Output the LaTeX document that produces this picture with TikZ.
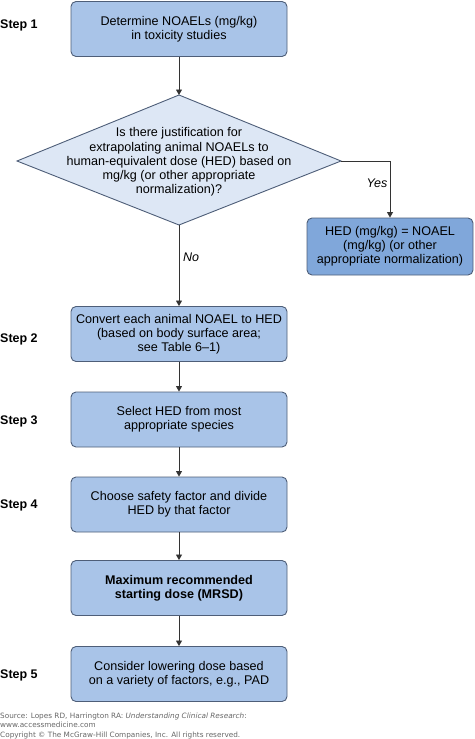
\documentclass[tikz,border=0pt]{standalone}
\usepackage{fontspec}
\setmainfont{Liberation Sans}
\newfontfamily\footfont{DejaVu Sans}
\usetikzlibrary{arrows.meta}
\definecolor{boxfill}{HTML}{A9C4E8}
\definecolor{hedfill}{HTML}{80A7DA}
\definecolor{diafill}{HTML}{DDE7F5}
\definecolor{edge}{HTML}{4E5E78}
\definecolor{footgray}{HTML}{666666}
\tikzset{
  stepbox/.style={draw=edge, line width=0.9pt, fill=boxfill, rounded corners=5pt, minimum width=216pt, minimum height=55pt, align=center, font=\fontsize{12.6}{14.2}\selectfont, inner sep=2pt},
  hedbox/.style={stepbox, fill=hedfill, minimum width=166pt, minimum height=57pt},
  dshape/.style={draw=edge, line width=0.9pt, fill=diafill, line join=miter},
  dtext/.style={align=center, font=\fontsize{12.6}{14.2}\selectfont, inner sep=0pt},
  steplabel/.style={anchor=west, font=\bfseries\fontsize{12.5}{14}\selectfont, inner sep=0pt},
  lab/.style={font=\itshape\fontsize{12.5}{14}\selectfont, inner sep=0pt},
  conn/.style={draw=black!80, line width=0.8pt, -{Triangle[length=5.5pt,width=6pt]}},
  foot/.style={anchor=west, inner sep=0pt, text=footgray, font=\footfont\fontsize{7.3}{8}\selectfont}
}
\begin{document}
\begin{tikzpicture}[x=1pt,y=-1pt]
\useasboundingbox (0,0) rectangle (474,739);
\node[stepbox] (s1) at (179,29) {Determine NOAELs (mg/kg)\\in toxicity studies};
\coordinate (dN) at (179,95);
\coordinate (dE) at (341,161);
\coordinate (dS) at (179,225);
\coordinate (dW) at (17,161);
\draw[dshape] (dN) -- (dE) -- (dS) -- (dW) -- cycle;
\node[dtext] (d) at (179,162) {Is there justification for\\extrapolating animal NOAELs to\\human-equivalent dose (HED) based on\\mg/kg (or other appropriate\\normalization)?};
\node[hedbox] (hed) at (390,246.5) {HED (mg/kg) = NOAEL\\(mg/kg) (or other\\appropriate normalization)};
\node[stepbox] (s2) at (179,334) {Convert each animal NOAEL to HED\\(based on body surface area;\\see Table 6--1)};
\node[stepbox] (s3) at (179,419.5) {Select HED from most\\appropriate species};
\node[stepbox] (s4) at (179,504.5) {Choose safety factor and divide\\HED by that factor};
\node[stepbox, font=\bfseries\fontsize{12.6}{14.2}\selectfont] (s5) at (179,588) {Maximum recommended\\starting dose (MRSD)};
\node[stepbox] (s6) at (179,674) {Consider lowering dose based\\on a variety of factors, e.g., PAD};
\node[steplabel] (l1) at (0,25) {Step 1};
\node[steplabel] (l2) at (0,339) {Step 2};
\node[steplabel] (l3) at (0,421) {Step 3};
\node[steplabel] (l4) at (0,505) {Step 4};
\node[steplabel] (l5) at (0,675) {Step 5};
\coordinate (yc) at (hed.north |- dE);
\draw[conn] (s1.south) -- (dN);
\draw[conn] (dE) -- (yc) -- (hed.north);
\draw[conn] (dS) -- (s2.north);
\draw[conn] (s2) -- (s3);
\draw[conn] (s3) -- (s4);
\draw[conn] (s4) -- (s5);
\draw[conn] (s5) -- (s6);
\node[lab] (yes) at (377,183) {Yes};
\node[lab] (no) at (191,257) {No};
\node[foot] (f1) at (0,716) {Source: Lopes RD, Harrington RA: \textit{Understanding Clinical Research}:};
\node[foot] (f2) at (0,725) {www.accessmedicine.com};
\node[foot] (f3) at (0,735) {Copyright \textcopyright{} The McGraw-Hill Companies, Inc. All rights reserved.};
\end{tikzpicture}
\end{document}
